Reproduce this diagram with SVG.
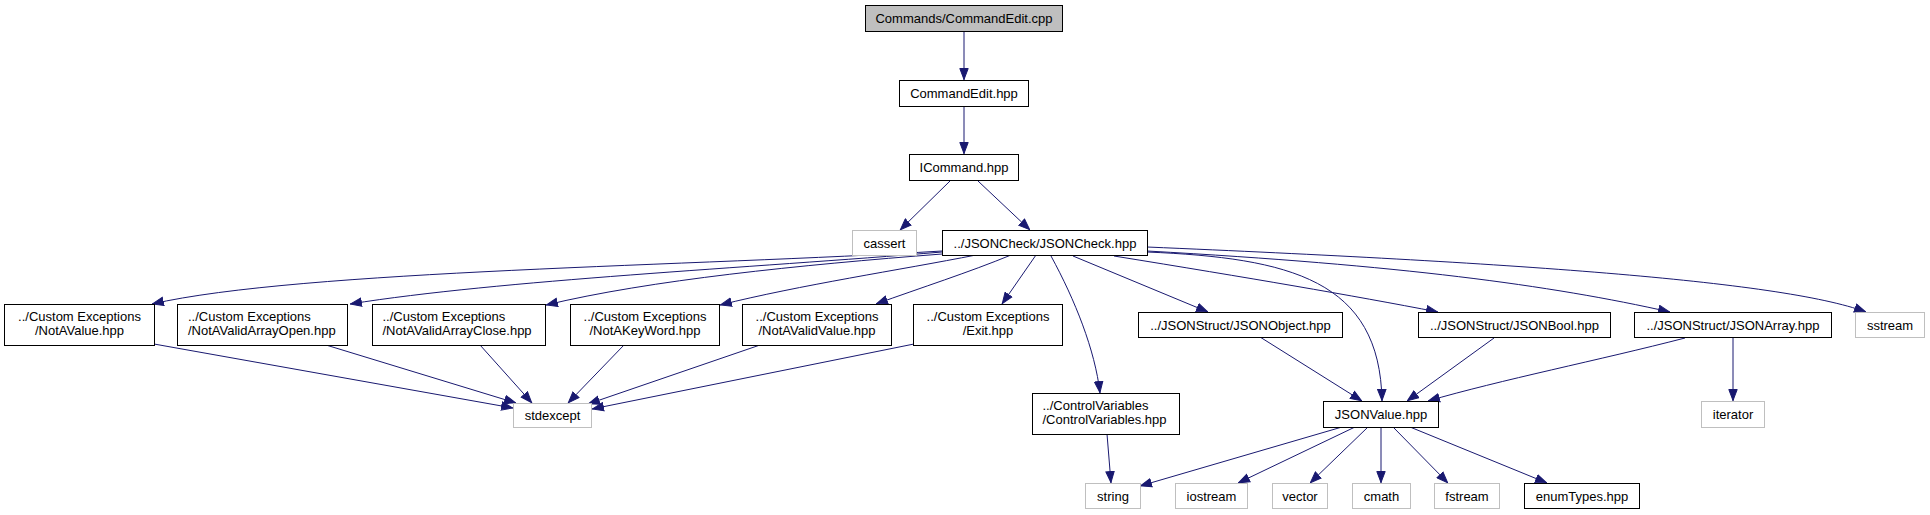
<svg xmlns="http://www.w3.org/2000/svg" width="1930" height="515" viewBox="0 0 1930 515">
<style>
.n rect{fill:#fff;stroke:#000;stroke-width:1}
.n.g rect{stroke:#bfbfbf}
.n.root rect{fill:#bfbfbf}
text{font-family:"Liberation Sans",Arial,Helvetica,sans-serif;font-size:13px;fill:#000;text-anchor:middle}
text.l{text-anchor:start}
#edges path{fill:none;stroke:#191970;stroke-width:1;marker-end:url(#ah)}
</style>
<defs>
<marker id="ah" markerUnits="userSpaceOnUse" markerWidth="12" markerHeight="10" refX="12" refY="5" orient="auto">
<path d="M0.5,0.8 L11.5,5 L0.5,9.2 z" fill="#191970" stroke="#191970" stroke-width="1"/>
</marker>
</defs>
<rect width="1930" height="515" fill="#fff"/>
<g id="edges">
<path d="M964,32 L964,80"/>
<path d="M964,106 L964,154"/>
<path d="M950,181 L900,230"/>
<path d="M978,181 L1030,230"/>
<path d="M942,251 C700,266 300,270 152,304"/>
<path d="M942,252 C750,268 500,280 350,304"/>
<path d="M942,254 C800,265 650,280 546,305"/>
<path d="M976,255 C900,270 800,285 720,305"/>
<path d="M1011,255 C970,272 920,288 876,304"/>
<path d="M1036,255 L1002,304"/>
<path d="M1051,256 C1075,300 1095,350 1100,393"/>
<path d="M1073,256 L1208,312"/>
<path d="M1147,252 C1290,258 1380,280 1382,401"/>
<path d="M1114,256 C1250,278 1350,295 1438,312"/>
<path d="M1147,251 C1400,265 1550,285 1670,312"/>
<path d="M1147,247 C1500,262 1780,280 1866,312"/>
<path d="M1260,337 L1362,401"/>
<path d="M1494,338 L1407,401"/>
<path d="M1685,338 C1600,360 1500,380 1428,401"/>
<path d="M1733,338 L1733,401"/>
<path d="M1107,434 L1111,483"/>
<path d="M1342,427 L1140,486"/>
<path d="M1355,427 L1238,483"/>
<path d="M1368,427 L1310,483"/>
<path d="M1381,427 L1381,483"/>
<path d="M1393,427 L1448,483"/>
<path d="M1410,427 L1547,483"/>
<path d="M154,344 L513,408"/>
<path d="M326,345 L516,403"/>
<path d="M480,345 L532,403"/>
<path d="M624,345 L568,403"/>
<path d="M760,345 L588,404"/>
<path d="M914,344 L592,409"/>
</g>
<g id="n0" class="n root"><rect x="865.5" y="5.5" width="197" height="26"/><text x="964" y="23">Commands/CommandEdit.cpp</text></g>
<g id="n1" class="n"><rect x="899.5" y="80.5" width="129" height="26"/><text x="964" y="98">CommandEdit.hpp</text></g>
<g id="n2" class="n"><rect x="909.5" y="154.5" width="109" height="26"/><text x="964" y="172">ICommand.hpp</text></g>
<g id="n3" class="n g"><rect x="852.5" y="230.5" width="64" height="25"/><text x="884.5" y="247.5">cassert</text></g>
<g id="n4" class="n"><rect x="942.5" y="230.5" width="205" height="25"/><text x="1045" y="247.5">../JSONCheck/JSONCheck.hpp</text></g>
<g id="n5" class="n"><rect x="4.5" y="304.5" width="150" height="41"/><text x="79.5" y="321">../Custom Exceptions</text><text x="79.5" y="335">/NotAValue.hpp</text></g>
<g id="n6" class="n"><rect x="177.5" y="304.5" width="170" height="41"/><text class="l" x="188" y="321">../Custom Exceptions</text><text class="l" x="188" y="335">/NotAValidArrayOpen.hpp</text></g>
<g id="n7" class="n"><rect x="372.5" y="304.5" width="173" height="41"/><text class="l" x="382.5" y="321">../Custom Exceptions</text><text class="l" x="382.5" y="335">/NotAValidArrayClose.hpp</text></g>
<g id="n8" class="n"><rect x="570.5" y="304.5" width="149" height="41"/><text x="645" y="321">../Custom Exceptions</text><text x="645" y="335">/NotAKeyWord.hpp</text></g>
<g id="n9" class="n"><rect x="742.5" y="304.5" width="149" height="41"/><text x="817" y="321">../Custom Exceptions</text><text x="817" y="335">/NotAValidValue.hpp</text></g>
<g id="n10" class="n"><rect x="913.5" y="304.5" width="149" height="41"/><text x="988" y="321">../Custom Exceptions</text><text x="988" y="335">/Exit.hpp</text></g>
<g id="n11" class="n"><rect x="1138.5" y="312.5" width="204" height="25"/><text x="1240.5" y="329.5">../JSONStruct/JSONObject.hpp</text></g>
<g id="n12" class="n"><rect x="1418.5" y="312.5" width="192" height="25"/><text x="1514.5" y="329.5">../JSONStruct/JSONBool.hpp</text></g>
<g id="n13" class="n"><rect x="1634.5" y="312.5" width="197" height="25"/><text x="1733" y="329.5">../JSONStruct/JSONArray.hpp</text></g>
<g id="n14" class="n g"><rect x="1855.5" y="312.5" width="69" height="25"/><text x="1890" y="329.5">sstream</text></g>
<g id="n15" class="n g"><rect x="513.5" y="403.5" width="78" height="24"/><text x="552.5" y="420">stdexcept</text></g>
<g id="n16" class="n"><rect x="1032.5" y="393.5" width="147" height="41"/><text class="l" x="1042.5" y="410">../ControlVariables</text><text class="l" x="1042.5" y="424">/ControlVariables.hpp</text></g>
<g id="n17" class="n"><rect x="1323.5" y="401.5" width="115" height="26"/><text x="1381" y="419">JSONValue.hpp</text></g>
<g id="n18" class="n g"><rect x="1701.5" y="401.5" width="63" height="26"/><text x="1733" y="419">iterator</text></g>
<g id="n19" class="n g"><rect x="1085.5" y="483.5" width="55" height="25"/><text x="1113" y="500.5">string</text></g>
<g id="n20" class="n g"><rect x="1175.5" y="483.5" width="72" height="25"/><text x="1211.5" y="500.5">iostream</text></g>
<g id="n21" class="n g"><rect x="1272.5" y="483.5" width="55" height="25"/><text x="1300" y="500.5">vector</text></g>
<g id="n22" class="n g"><rect x="1352.5" y="483.5" width="58" height="25"/><text x="1381.5" y="500.5">cmath</text></g>
<g id="n23" class="n g"><rect x="1434.5" y="483.5" width="65" height="25"/><text x="1467" y="500.5">fstream</text></g>
<g id="n24" class="n"><rect x="1524.5" y="483.5" width="115" height="25"/><text x="1582" y="500.5">enumTypes.hpp</text></g>
</svg>
